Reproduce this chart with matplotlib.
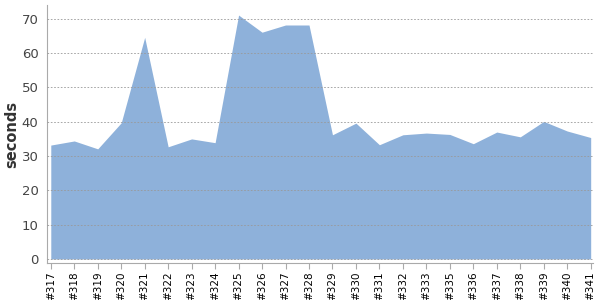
import matplotlib
matplotlib.use("Agg")
import matplotlib.pyplot as plt

builds = ["#317", "#318", "#319", "#320", "#321", "#322", "#323", "#324",
          "#325", "#326", "#327", "#328", "#329", "#330", "#331", "#332",
          "#333", "#335", "#336", "#337", "#338", "#339", "#340", "#341"]
seconds = [33.2, 34.4, 32.1, 39.7, 64.6, 32.7, 35.0, 33.9,
           71.1, 66.1, 68.2, 68.2, 36.2, 39.6, 33.3, 36.2,
           36.7, 36.3, 33.6, 37.0, 35.6, 40.1, 37.3, 35.4]

fig = plt.figure(figsize=(6, 3), dpi=100)
ax = fig.add_axes([0.078, 0.123, 0.91, 0.86])

x = list(range(len(builds)))
ax.fill_between(x, 0, seconds, color="#8eb1da", linewidth=0, zorder=2)

ax.set_xlim(-0.17, len(builds) - 1 + 0.09)
ax.set_ylim(-1.2, 74)
ax.set_yticks(range(0, 80, 10))
ax.set_xticks(x)
ax.set_xticklabels(builds, rotation=90, fontsize=7.5, color="black")
ax.tick_params(axis="y", length=0, labelsize=9.5, labelcolor="#444444", pad=6)
ax.tick_params(axis="x", length=4, color="#aaaaaa", pad=2)

# dotted horizontal grid, drawn over the area
ax.grid(axis="y", linestyle=(0, (2, 2)), color="#999999", linewidth=0.6, zorder=3)
ax.set_axisbelow(False)

for s in ["top", "right"]:
    ax.spines[s].set_visible(False)
ax.spines["left"].set_color("#aaaaaa")
ax.spines["bottom"].set_color("#aaaaaa")

ax.set_ylabel("seconds", fontsize=10.5, fontweight="bold", color="#333333")
ax.yaxis.set_label_coords(-0.05, 0.5)

fig.savefig("out.png", dpi=100)
